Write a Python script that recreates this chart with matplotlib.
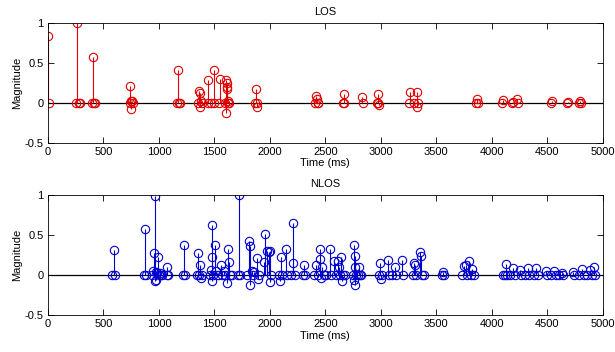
import numpy as np
import matplotlib.pyplot as plt

# LOS impulse response (time in ms, magnitude)
los_time = [0, 5,
            250, 265, 278, 285,
            395, 405, 415, 428,
            735, 742, 748, 752, 758, 762,
            1160, 1172, 1182, 1192,
            1355, 1362, 1368, 1372, 1378, 1388,
            1440, 1442, 1470, 1497, 1500, 1545, 1548,
            1595, 1605, 1610, 1612, 1615, 1608, 1620, 1625, 1632,
            1870, 1878, 1882, 1888,
            2410, 2418, 2425, 2430, 2435,
            2660, 2665, 2672,
            2826, 2835,
            2965, 2972, 2978, 2980,
            3255, 3262, 3300, 3322, 3328, 3335,
            3862, 3868, 3874,
            4090, 4098, 4185, 4195, 4225, 4238,
            4530, 4540,
            4680, 4690,
            4785, 4792, 4800]
los_mag = [0.83, 0,
           0, 1.0, 0, 0,
           0, 0.57, 0, 0,
           0, 0.21, 0.03, -0.07, 0.02, 0,
           0, 0.41, 0, 0,
           0, 0.15, 0.12, -0.05, 0.03, 0,
           0, 0.29, 0, 0.41, 0, 0, 0.30,
           0, 0.28, 0.25, 0.20, 0.17, -0.13, 0.03, 0, 0,
           0, 0.17, -0.05, 0,
           0, 0.08, 0.05, 0, 0,
           0, 0.11, 0,
           0.07, 0,
           0, 0.11, 0, -0.03,
           0, 0.14, 0, 0.13, -0.05, 0,
           0, 0.05, 0,
           0, 0.04, 0, 0.01, 0.05, 0,
           0, 0.03,
           0, 0.01,
           0, 0.02, 0]

# NLOS impulse response (time in ms, magnitude)
nlos_time = [580, 591, 600,
             868, 875, 882,
             940, 950, 955, 962, 967, 972, 978, 985, 991, 998, 1010, 1020, 1030,
             1070, 1076, 1082,
             1215, 1227, 1235,
             1340, 1348, 1360, 1373, 1380, 1385,
             1460, 1470, 1476, 1478, 1482, 1490, 1509, 1515, 1530, 1561, 1570,
             1590, 1600, 1615, 1621, 1635, 1645, 1655,
             1710, 1721, 1730,
             1795, 1809, 1820, 1825, 1835, 1845, 1860, 1885, 1890, 1900,
             1945, 1958, 1970, 1990, 2000, 2005, 2010,
             2085, 2100, 2095, 2110, 2142, 2150,
             2195, 2210, 2212, 2225,
             2300, 2312, 2320,
             2400, 2420, 2430, 2450, 2452, 2460, 2474, 2490, 2510, 2540, 2555,
             2580, 2595, 2616, 2620, 2630, 2643, 2648, 2660, 2675,
             2745, 2755, 2760, 2763, 2768, 2770, 2780, 2795, 2805, 2815, 2825,
             2985, 2995, 3000, 3010, 3066, 3075, 3100, 3126, 3135, 3192, 3200,
             3290, 3300, 3305, 3320, 3357, 3362, 3370, 3385,
             3555, 3561, 3568,
             3730, 3750, 3771, 3780, 3795, 3810, 3825, 3840,
             4100, 4115, 4126, 4140, 4160, 4192, 4210, 4252, 4260, 4300, 4330,
             4340, 4380, 4402, 4420, 4486, 4495, 4530, 4561, 4575, 4610, 4630,
             4640, 4732, 4745, 4790, 4816, 4830, 4860, 4882, 4900, 4918, 4930]
nlos_mag = [0, 0.31, 0,
            0, 0.58, 0,
            0, 0.05, 0.28, 0.99, -0.08, 0.04, -0.06, 0.02, 0.22, 0, 0.03, 0, 0,
            0, 0.10, 0,
            0, 0.38, 0,
            0, 0.27, 0, 0.13, -0.04, 0,
            0, 0.06, 0.62, 0.23, -0.07, 0, 0.38, 0.05, 0, 0.13, 0,
            0.05, 0, -0.10, 0.33, 0.16, 0, 0,
            0, 1.0, 0,
            0, 0.42, 0.36, -0.12, 0.05, 0, 0.04, 0.21, -0.05, 0,
            0.16, 0.51, 0.30, 0.29, -0.09, 0.30, 0,
            0, 0.23, -0.07, 0, 0.33, 0,
            0, 0.15, 0.65, 0,
            0, 0.12, 0,
            0, 0.12, 0, 0.33, 0.20, -0.04, 0.10, 0, 0, 0.32, 0,
            0.18, 0, 0.17, 0.10, 0, 0.22, -0.08, 0, 0,
            0, -0.06, 0.38, 0.24, 0.10, -0.12, 0, 0, 0.10, 0, 0,
            0, 0.15, -0.05, 0, 0.19, 0, 0, 0.10, 0, 0.19, 0,
            0, 0.15, 0.12, 0, 0.29, 0.24, 0, 0,
            0, 0.04, 0,
            0, 0.11, 0.13, 0, 0.18, 0, 0.08, 0,
            0, 0, 0.14, 0, 0, 0.09, 0, 0.06, 0, 0, 0.09,
            0, 0, 0.09, 0, 0.05, 0, 0, 0.05, 0, 0, 0.02,
            0, 0.04, 0, 0, 0.08, 0, 0, 0.06, 0, 0.10, 0]

panels = [("LOS", los_time, los_mag, "#e00000"),
          ("NLOS", nlos_time, nlos_mag, "#0000d0")]

plt.rcParams['font.family'] = ['Liberation Sans', 'DejaVu Sans']
plt.rcParams['font.size'] = 8

fig = plt.figure(figsize=(6.15, 3.52), dpi=100)
boxes = [[0.078, 0.594, 0.902, 0.341], [0.078, 0.105, 0.902, 0.341]]

for box, (title, t, m, col) in zip(boxes, panels):
    ax = fig.add_axes(box)
    ax.axhline(0, color='k', lw=0.9, zorder=1)
    ml, sl, bl = ax.stem(t, m, basefmt=' ')
    plt.setp(sl, color=col, linewidth=0.8)
    plt.setp(ml, markerfacecolor='none', markeredgecolor=col, markersize=6,
             markeredgewidth=0.8)
    ax.set_xlim(0, 5000)
    ax.set_ylim(-0.5, 1)
    ax.set_xticks(np.arange(0, 5001, 500))
    ax.set_yticks([-0.5, 0, 0.5, 1])
    ax.set_yticklabels(['-0.5', '0', '0.5', '1'])
    ax.tick_params(direction='in', top=True, right=True, length=4, width=0.6, pad=3)
    for s in ax.spines.values():
        s.set_linewidth(0.6)
    ax.set_title(title, fontsize=8, pad=6)
    ax.set_xlabel("Time (ms)", labelpad=1)
    ax.set_ylabel("Magnitude", labelpad=2)

fig.savefig("out.png", dpi=100)
